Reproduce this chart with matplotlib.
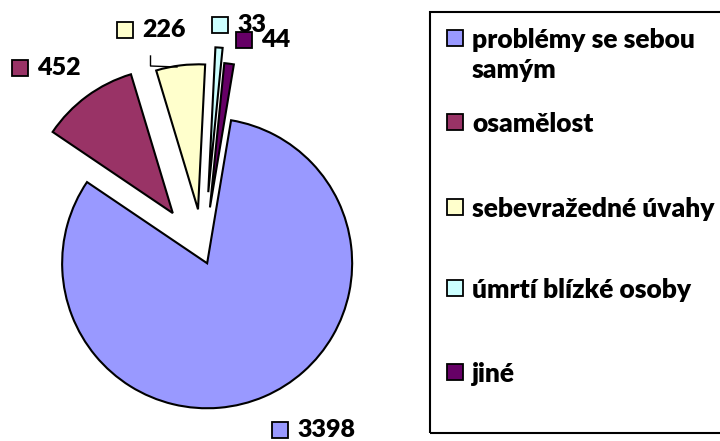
import matplotlib.pyplot as plt
from matplotlib.patches import Rectangle

# ==========================
# data
# ==========================
categories = ["problémy se sebou\nsamým", "osamělost", "sebevražedné úvahy",
              "úmrtí blízké osoby", "jiné"]
values = [3398, 452, 226, 33, 44]
colors = ["#9999FF", "#993366", "#FFFFCC", "#CCFFFF", "#660066"]

# layout (pixel coords, y measured from top, flipped below)
H = 441
explode = [9, 52, 46, 63, 48]
label_pos = [(280, 430), (20, 68), (125, 30), (220, 25), (244, 40)]
legend_y = [38, 122, 207, 288, 372]

plt.rcParams["font.family"] = ["Lato", "DejaVu Sans"]

fig = plt.figure(figsize=(7.2, 4.41), dpi=100)
ax = fig.add_axes([0, 0, 1, 1])

ax.pie(values, colors=colors, explode=explode, radius=145,
       center=(203.6, H - 255), startangle=80.5, counterclock=False,
       wedgeprops=dict(edgecolor="black", linewidth=1.5), frame=True)

# data labels with legend keys
for (x, y), v, c in zip(label_pos, values, colors):
    ax.plot(x, H - y, marker="s", markersize=11.5, markerfacecolor=c,
            markeredgecolor="black", markeredgewidth=1.3)
    ax.text(x + 17, H - y, str(v), fontsize=18, fontweight="heavy",
            va="center", ha="left")

# small leader line by the 226 label
ax.plot([150.5, 150.5, 177], [H - 56, H - 66, H - 67], color="black", lw=1)

# legend box
ax.add_patch(Rectangle((430, H - 433), 300, 421, facecolor="none",
                       edgecolor="black", linewidth=1.5, clip_on=False))
for name, c, y in zip(categories, colors, legend_y):
    ax.plot(454.5, H - y, marker="s", markersize=11.5, markerfacecolor=c,
            markeredgecolor="black", markeredgewidth=1.3)
    for i, line in enumerate(name.split("\n")):
        ax.text(472, H - y - 2 - 30 * i, line, fontsize=19,
                fontweight="heavy", va="center", ha="left")

ax.set_xlim(0, 720)
ax.set_ylim(0, H)
ax.set_aspect("equal")
ax.axis("off")

fig.savefig("out.png", dpi=100)
